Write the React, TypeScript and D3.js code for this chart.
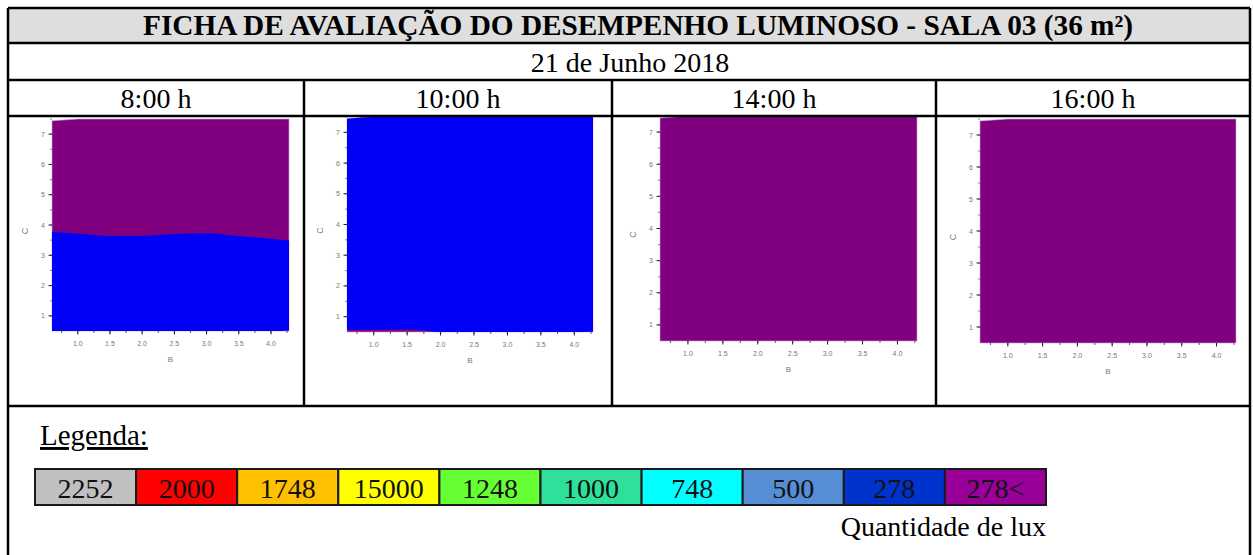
import React from 'react';
import * as d3 from 'd3';

// chart values
const title = 'FICHA DE AVALIAÇÃO DO DESEMPENHO LUMINOSO - SALA 03 (36 m²)';
const dateLabel = '21 de Junho 2018';
const times = ['8:00 h', '10:00 h', '14:00 h', '16:00 h'];

// B positions where the contour edges were read
const bGrid = [0.6, 1.0, 1.5, 2.0, 2.5, 3.0, 3.5, 4.0, 4.28];
// top edge of the plotted field (C)
const fieldTop = [7.44, 7.5, 7.5, 7.5, 7.5, 7.5, 7.5, 7.5, 7.5];
// the "278" (blue) zone, lower and upper C for every time
const blueLow0800 = [0.5, 0.5, 0.5, 0.5, 0.5, 0.5, 0.5, 0.5, 0.52];
const blueHigh0800 = [3.78, 3.72, 3.64, 3.64, 3.7, 3.73, 3.64, 3.55, 3.49];
const blueLow1000 = [0.57, 0.57, 0.59, 0.5, 0.5, 0.5, 0.5, 0.5, 0.52];
const blueHigh1000 = [7.44, 7.5, 7.5, 7.5, 7.5, 7.5, 7.5, 7.5, 7.5];
const blueLow = [blueLow0800, blueLow1000, null, null];
const blueHigh = [blueHigh0800, blueHigh1000, null, null];

const bTicks = [1.0, 1.5, 2.0, 2.5, 3.0, 3.5, 4.0];
const cTicks = [1, 2, 3, 4, 5, 6, 7];

const legendLabels = ['2252', '2000', '1748', '15000', '1248', '1000', '748', '500', '278', '278<'];
const legendColors = ['#c0c0c0', '#ff0000', '#ffc000', '#ffff00', '#66ff33', '#2fe09a', '#00ffff', '#558ed5', '#0033cc', '#990099'];

// layout
const W = 1253;
const H = 555;
const left = 8;
const right = 1250;
const rows = [8, 43, 80, 116, 406];
const cols = [8, 304, 612, 936, 1250];
const plots = [
  { x0: 52, x1: 289, y0: 119, y1: 331 },
  { x0: 347, x1: 593, y0: 117, y1: 332 },
  { x0: 660, x1: 917, y0: 116, y1: 341 },
  { x0: 980, x1: 1236, y0: 119, y1: 343 },
];
const PURPLE = '#800080';
const BLUE = '#0000f8';
const serif = '"Liberation Serif", "Times New Roman", serif';
const sans = '"Liberation Sans", Arial, sans-serif';

function Panel({ i }) {
  const p = plots[i];
  const x = d3.scaleLinear().domain([0.6, 4.28]).range([p.x0, p.x1]);
  const y = d3.scaleLinear().domain([0.5, 7.5]).range([p.y1, p.y0]);
  const pts = bGrid.map((b, k) => k);
  const field = d3
    .area()
    .x((k) => x(bGrid[k]))
    .y0(() => y(0.5))
    .y1((k) => y(fieldTop[k]));
  const lo = blueLow[i];
  const hi = blueHigh[i];
  const blue = lo
    ? d3
        .area()
        .curve(d3.curveMonotoneX)
        .x((k) => x(bGrid[k]))
        .y0((k) => y(lo[k]))
        .y1((k) => y(hi[k]))
    : null;
  const minorB = d3.range(0.75, 4.3, 0.25);
  const minorC = d3.range(1, 7.6, 0.5);
  return (
    <g>
      <path d={field(pts)} fill={PURPLE} stroke="#c9a0d8" strokeWidth={0.6} />
      {blue && <path d={blue(pts)} fill={BLUE} />}
      {minorB.map((b) => (
        <line key={'mb' + b} x1={x(b)} x2={x(b)} y1={y(0.5)} y2={y(0.5) + 2} stroke="#333" strokeWidth={0.8} />
      ))}
      {bTicks.map((b) => (
        <g key={'b' + b}>
          <line x1={x(b)} x2={x(b)} y1={y(0.5)} y2={y(0.5) + 3.5} stroke="#222" strokeWidth={1} />
          <text x={x(b)} y={y(0.5) + 15} textAnchor="middle" fontFamily={sans} fontSize={7} fill="#777">
            {b.toFixed(1)}
          </text>
        </g>
      ))}
      {minorC.map((c) => (
        <line key={'mc' + c} x1={x(0.6) - 2} x2={x(0.6)} y1={y(c)} y2={y(c)} stroke="#555" strokeWidth={0.7} />
      ))}
      {cTicks.map((c) => (
        <g key={'c' + c}>
          <line x1={x(0.6) - 3.5} x2={x(0.6)} y1={y(c)} y2={y(c)} stroke="#222" strokeWidth={1} />
          <text x={x(0.6) - 7} y={y(c) + 2.5} textAnchor="end" fontFamily={sans} fontSize={7} fill="#777">
            {c}
          </text>
        </g>
      ))}
      <text x={(p.x0 + p.x1) / 2} y={y(0.5) + 31} textAnchor="middle" fontFamily={sans} fontSize={8} fill="#777">
        B
      </text>
      <text
        transform={`translate(${p.x0 - 24},${(p.y0 + p.y1) / 2 + 6}) rotate(-90)`}
        textAnchor="middle"
        fontFamily={sans}
        fontSize={9}
        fill="#777"
      >
        C
      </text>
    </g>
  );
}

export default function App() {
  const legend = d3.scaleBand().domain(legendLabels).range([35, 1046]);
  return (
    <svg width={W} height={H} style={{ position: 'absolute', left: 0, top: 0 }}>
      <rect x={0} y={0} width={W} height={H} fill="#fff" />
      <rect x={left} y={rows[0]} width={right - left} height={rows[1] - rows[0]} fill="#dedede" />
      <text
        x={638}
        y={35}
        textAnchor="middle"
        fontFamily={serif}
        fontWeight="bold"
        fontSize={29}
        textLength={990}
        lengthAdjust="spacingAndGlyphs"
      >
        {title}
      </text>
      <text x={630} y={72} textAnchor="middle" fontFamily={serif} fontSize={28}>
        {dateLabel}
      </text>
      {times.map((t, i) => (
        <text key={t} x={(cols[i] + cols[i + 1]) / 2} y={108} textAnchor="middle" fontFamily={serif} fontSize={28}>
          {t}
        </text>
      ))}
      {times.map((t, i) => (
        <Panel key={'p' + t} i={i} />
      ))}

      <text x={40} y={445} fontFamily={serif} fontSize={29} textDecoration="underline">
        Legenda:
      </text>
      {legendLabels.map((l, i) => (
        <g key={l}>
          <rect
            x={legend(l)}
            y={469}
            width={legend.bandwidth()}
            height={36}
            fill={legendColors[i]}
            stroke="#1a1a1a"
            strokeWidth={2}
          />
          <text
            x={legend(l) + legend.bandwidth() / 2}
            y={498}
            textAnchor="middle"
            fontFamily={serif}
            fontSize={28}
            fill="#111"
          >
            {l}
          </text>
        </g>
      ))}
      <text x={1046} y={536} textAnchor="end" fontFamily={serif} fontSize={28}>
        Quantidade de lux
      </text>

      {/* table grid */}
      <g stroke="#000" strokeWidth={2.5} fill="none">
        <line x1={left} x2={left} y1={rows[0]} y2={H + 5} />
        <line x1={right} x2={right} y1={rows[0]} y2={H + 5} />
        {rows.map((r) => (
          <line key={'r' + r} x1={left} x2={right} y1={r} y2={r} />
        ))}
        {cols.slice(1, 4).map((c) => (
          <line key={'c' + c} x1={c} x2={c} y1={rows[2]} y2={rows[4]} />
        ))}
      </g>
    </svg>
  );
}
